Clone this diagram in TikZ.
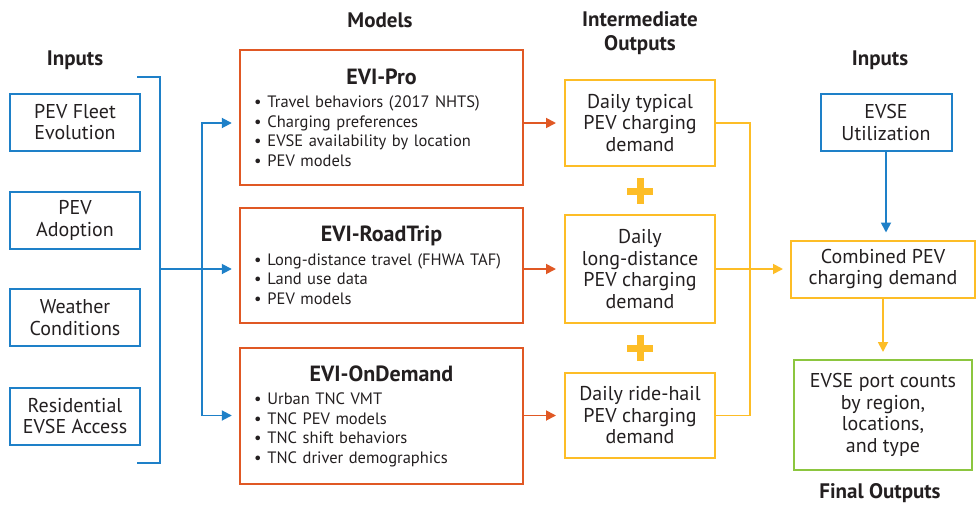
\documentclass[tikz,border=0pt]{standalone}
\usepackage{fontspec}
\setmainfont{PT Sans}
\usetikzlibrary{arrows.meta, positioning, calc}
\definecolor{inblue}{RGB}{30,128,200}
\definecolor{modred}{RGB}{224,88,36}
\definecolor{outyellow}{RGB}{253,189,38}
\definecolor{finalgreen}{RGB}{140,198,63}
\definecolor{txtgray}{RGB}{35,31,32}
\newcommand{\modtitle}[1]{\hbox to\hsize{\hfil\fontsize{22}{26}\selectfont\bfseries #1\hfil}\\[4pt]}
\newcommand{\itm}{\textbullet\hspace{6pt}}

\begin{document}
\begin{tikzpicture}[x=1pt, y=-1pt,
        every node/.style={text=txtgray},
        inbox/.style={draw=inblue, line width=2pt, minimum width=130pt,
                      minimum height=57pt, inner sep=1pt, align=center,
                      font=\fontsize{20}{21.5}\selectfont},
        modbox/.style={draw=modred, line width=2.4pt, minimum width=283pt,
                       text width=255pt, inner xsep=14pt, align=left,
                       font=\fontsize{16.5}{19.5}\selectfont},
        outbox/.style={draw=outyellow, line width=2pt, minimum width=150pt,
                       inner sep=1pt, align=center,
                       font=\fontsize{20}{21.5}\selectfont},
        finbox/.style={draw=finalgreen, line width=2pt, minimum width=178pt,
                       minimum height=110pt, inner sep=1pt, align=center,
                       font=\fontsize{20}{21.5}\selectfont},
        head/.style={align=center, font=\fontsize{21}{24}\selectfont\bfseries},
        bline/.style={inblue, line width=1.8pt},
        barr/.style={bline, -{Triangle[length=10pt,width=10pt]}, shorten >=7pt},
        rarr/.style={modred, line width=1.8pt,
                     -{Triangle[length=10pt,width=10pt]}, shorten >=8pt},
        yline/.style={outyellow, line width=1.8pt},
        yarr/.style={yline, -{Triangle[length=10pt,width=10pt]}, shorten >=7pt},
        plus/.style={outyellow, line width=7pt}
      ]
        \useasboundingbox (0,0) rectangle (978,504);

        % column headings
        \node[head] (hin)  at (75,60)  {Inputs};
        \node[head] (hmod) at (380,20) {Models};
        \node[head] (hint) at (640,33) {Intermediate\\Outputs};
        \node[head] (hin2) at (880,60) {Inputs};
        \node[head] (hfin) at (880,493) {Final Outputs};

        % inputs
        \node[inbox] (fleet)   at (75,122)   {PEV Fleet\\Evolution};
        \node[inbox] (adopt)   at (75,220.5) {PEV\\Adoption};
        \node[inbox] (weather) at (75,317.5) {Weather\\Conditions};
        \node[inbox] (resid)   at (75,416)   {Residential\\EVSE Access};

        % models
        \node[modbox, minimum height=135pt] (pro) at (381.5,117.5)
          {\modtitle{EVI-Pro}
           \itm Travel behaviors (2017 NHTS)\\
           \itm Charging preferences\\
           \itm EVSE availability by location\\
           \itm PEV models};
        \node[modbox, minimum height=115pt] (road) at (381.5,265.5)
          {\modtitle{EVI-RoadTrip}
           \itm Long-distance travel (FHWA TAF)\\
           \itm Land use data\\
           \itm PEV models};
        \node[modbox, minimum height=136pt] (ond) at (381.5,416)
          {\modtitle{EVI-OnDemand}
           \itm Urban TNC VMT\\
           \itm TNC PEV models\\
           \itm TNC shift behaviors\\
           \itm TNC driver demographics};

        % intermediate outputs
        \node[outbox, minimum height=86pt]  (typ)  at (640,123)
          {Daily typical\\PEV charging\\demand};
        \node[outbox, minimum height=108pt] (long) at (640,269)
          {Daily\\long-distance\\PEV charging\\demand};
        \node[outbox, minimum height=85pt]  (hail) at (640,415.5)
          {Daily ride-hail\\PEV charging\\demand};

        % right column
        \node[inbox, minimum width=131pt] (util) at (886,122.5) {EVSE\\Utilization};
        \node[outbox, minimum width=184pt, minimum height=57pt] (comb) at (883,269)
          {Combined PEV\\charging demand};
        \node[finbox] (ports) at (883,415)
          {EVSE port counts\\by region,\\locations,\\and type};

        % bracket of inputs
        \coordinate (brtop) at (137,77);
        \coordinate (brbot) at (137,463);
        \coordinate (brmid) at (160,269);
        \coordinate (split) at (202,269);
        \draw[bline] (brtop) -| (brmid) |- (brbot);
        \draw[bline] (brmid) -- (split);
        \draw[barr] (split) |- (pro.west |- typ);
        \draw[barr] (split) -- (road.west |- long);
        \draw[barr] (split) |- (ond.west |- hail);

        % models to outputs
        \draw[rarr] (pro.east |- typ) -- (typ.west);
        \draw[rarr] (road.east |- long) -- (long.west);
        \draw[rarr] (ond.east |- hail) -- (hail.west);

        % plus signs
        \foreach \py in {191,348}
          \draw[plus] (627,\py) -- (653,\py) (640,\py-13) -- (640,\py+13);

        % outputs combined
        \coordinate (join) at (750,269);
        \draw[yline] (typ.east) -| (join);
        \draw[yline] (hail.east) -| (join);
        \draw[yarr] (long.east) -- (comb.west);
        \draw[barr] (util.south) -- (util.south |- comb.north);
        \draw[yarr] (comb.south) -- (ports.north);
      \end{tikzpicture}
\end{document}
